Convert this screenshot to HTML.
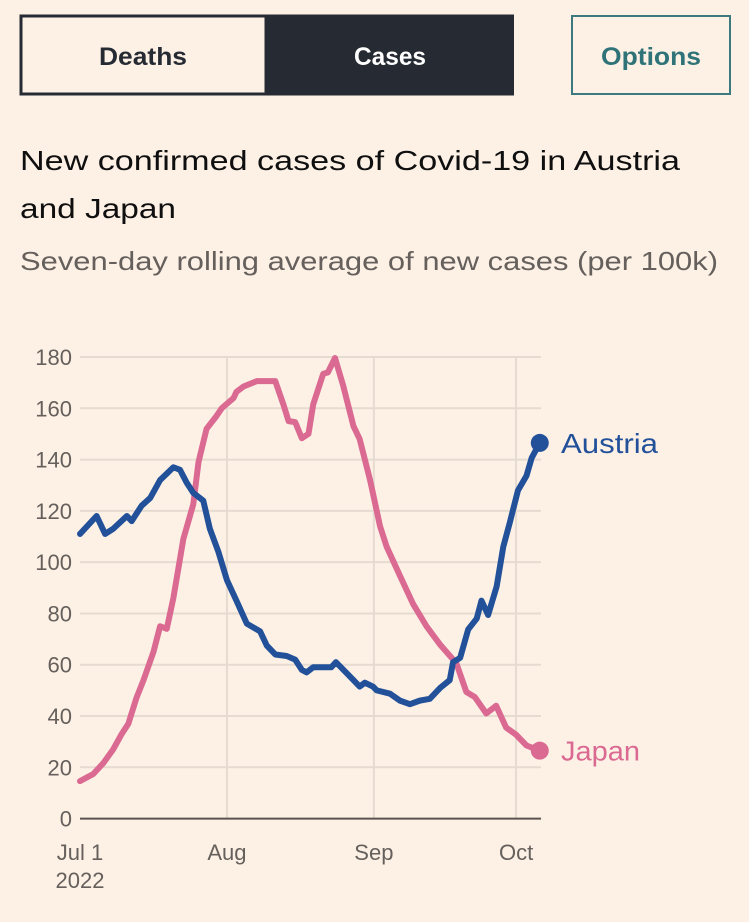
<!DOCTYPE html>
<html><head><meta charset="utf-8"><style>
html,body{margin:0;padding:0;background:#fdf1e6;}
svg{display:block;font-family:"Liberation Sans",sans-serif;}
</style></head><body>
<svg width="749" height="922" viewBox="0 0 749 922">
<rect x="0" y="0" width="749" height="922" fill="#fdf1e6"/>
<g>
<rect x="21" y="16" width="245" height="78" fill="#fdf1e6" stroke="#262a33" stroke-width="3"/>
<text x="143" y="65" text-anchor="middle" font-size="25" font-weight="bold" fill="#262a33" textLength="88" lengthAdjust="spacingAndGlyphs">Deaths</text>
</g>
<g>
<rect x="265" y="14.5" width="249" height="81" fill="#262a33"/>
<text x="390" y="65" text-anchor="middle" font-size="25" font-weight="bold" fill="#ffffff" textLength="72" lengthAdjust="spacingAndGlyphs">Cases</text>
</g>
<g>
<rect x="572" y="16" width="158" height="78" fill="#fdf1e6" stroke="#3b7b80" stroke-width="2"/>
<text x="651" y="65" text-anchor="middle" font-size="25" font-weight="bold" fill="#2f7378" textLength="100" lengthAdjust="spacingAndGlyphs">Options</text>
</g>
<text font-size="28" fill="#0f0f0f">
<tspan x="20" y="170" textLength="660" lengthAdjust="spacingAndGlyphs">New confirmed cases of Covid-19 in Austria</tspan>
<tspan x="20" y="218" textLength="156" lengthAdjust="spacingAndGlyphs">and Japan</tspan>
</text>
<text x="20" y="270" font-size="26" fill="#66605c" textLength="698" lengthAdjust="spacingAndGlyphs">Seven-day rolling average of new cases (per 100k)</text>
<g id="plot"></g>
</svg>
<script>
const yTicks=[0,20,40,60,80,100,120,140,160,180];
const monthDays=[0,31,62,92];
const monthLabels=["Jul 1","Aug","Sep","Oct"];
const austriaDays=[0,3.5,5.3,7,9.9,10.9,13,14.8,16.9,18.3,19.7,21.1,22.5,23.9,26,27.4,29.2,31,33,35.2,38,39.4,41.2,43.6,45.4,46.8,47.8,49.2,53,54,57.7,59,60.1,61.8,62.6,65.4,67.5,69.6,71.7,73.8,76,78,78.7,80.2,81.9,83.7,84.7,86.1,87.9,89.3,90.7,92.4,94.2,95.3,97];
const austriaVals=[111,118,111,113,118,116,122,125,132,134.5,137,136,131,127,124,113,104,93,85,76,73,67.5,64,63.4,62,58,57,59,59,61,54,51.5,53,51.5,50,48.7,46,44.6,46,46.7,51,54,61,62.7,73.8,78,85,79.4,90.5,106,115.6,128,133.7,140.7,146.5];
const japanDays=[0,2.8,4.9,7,8.8,10.2,11.9,13.4,15.5,16.9,18.3,19.7,21.8,23.9,25,26.7,28.8,29.9,32.4,33,34.5,37.3,41.2,43,44,45.4,46.8,48.2,49.2,51.3,52.3,53.8,55.5,57.7,59,61.2,63.3,64.7,67.5,70.3,73.1,75.9,79.4,81.5,83.3,85.7,87.8,89.9,92,94.2,97];
const japanVals=[14.6,17.4,21.6,27,33,37,47,54,65,75,74,86,109,122.6,139,152,157,160,164,166.4,168.5,170.6,170.6,161,155,154.6,148.3,150,161.5,173.4,174,179.6,169,153,148,132,114,106,94.7,83.6,75,68,60.6,49.4,47.4,41,44,35.5,32.7,28.5,26.5];
const NS="http://www.w3.org/2000/svg";
const g=document.getElementById('plot');
const X0=80,PX=4.74,Y0=818.6,PY=2.5645,XR=541;
const sx=d=>X0+d*PX, sy=v=>Y0-v*PY;
function mk(t,a){const e=document.createElementNS(NS,t);for(const k in a)e.setAttribute(k,a[k]);g.appendChild(e);return e;}
yTicks.forEach(v=>{
  if(v>0){const l=mk('line',{x1:X0,x2:XR,y1:sy(v),y2:sy(v),stroke:'#e6dbd0','stroke-width':2});
  
  }
  const t=mk('text',{x:72,y:sy(v)+8,'text-anchor':'end','font-size':22,fill:'#66605c'});t.textContent=v;
  
  
});
monthDays.forEach((d,i)=>{
  if(d>0){const l=mk('line',{x1:sx(d),x2:sx(d),y1:sy(180),y2:Y0,stroke:'#e6dbd0','stroke-width':2});
  
  }
  const t=mk('text',{x:sx(d),y:860,'text-anchor':'middle','font-size':22,fill:'#66605c'});t.textContent=monthLabels[i];
  
  
});
const yr=mk('text',{x:sx(0),y:888,'text-anchor':'middle','font-size':22,fill:'#66605c'});yr.textContent='2022';


const ax=mk('line',{x1:X0,x2:XR,y1:Y0,y2:Y0,stroke:'#5a534e','stroke-width':2});


function series(days,vals,color,name,label,w){
  const p=mk('polyline',{points:days.map((d,i)=>sx(d)+','+sy(vals[i])).join(' '),fill:'none',stroke:color,'stroke-width':6,'stroke-linejoin':'round','stroke-linecap':'round'});
  
  
  const n=days.length-1;
  const c=mk('circle',{cx:sx(days[n]),cy:sy(vals[n]),r:9,fill:color});
  
  
  const t=mk('text',{x:561,y:sy(vals[n])+10,'font-size':28,fill:color,textLength:w,lengthAdjust:'spacingAndGlyphs'});t.textContent=label;
  
  
}
series(japanDays,japanVals,'#db6a92','japan','Japan',79);
series(austriaDays,austriaVals,'#22519a','austria','Austria',97);
</script>
</body></html>
